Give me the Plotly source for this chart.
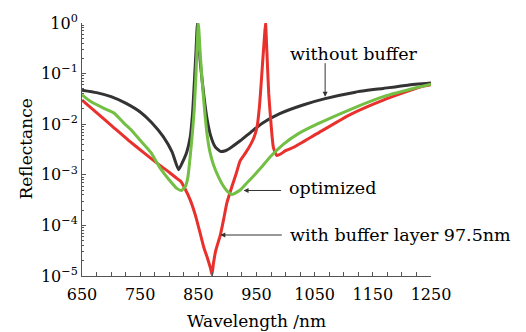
import plotly.graph_objects as go
import numpy as np

# wavelength (nm) and reflectance values
wl_black = [650, 675, 700, 725, 750, 770, 790, 805, 816, 822, 830, 836, 840, 843, 846, 848.5,
            851, 854, 859, 865, 871, 879, 888, 895, 905, 922, 940, 960, 990, 1030, 1068, 1120,
            1168, 1210, 1250]
r_black = [4.7e-2, 4.2e-2, 3.5e-2, 2.6e-2, 1.74e-2, 1.07e-2, 5.6e-3, 2.8e-3, 1.26e-3,
           1.7e-3, 2.8e-3, 5.5e-3, 1.6e-2, 6.3e-2, 2.8e-1, 1.0, 3.5e-1, 1.4e-1, 4.1e-2, 1.26e-2,
           6.0e-3, 3.55e-3, 2.9e-3, 2.95e-3, 3.4e-3, 4.7e-3, 6.9e-3, 1.05e-2, 1.62e-2, 2.4e-2,
           3.2e-2, 4.3e-2, 5.1e-2, 5.9e-2, 6.5e-2]

wl_green = [650, 665, 690, 705, 722, 735, 750, 768, 785, 800, 813, 821, 828, 832, 836, 840, 843,
            846, 850, 853, 856, 861, 865, 870, 876, 885, 893, 900, 908, 922, 935, 945, 960, 975,
            996, 1020, 1054, 1111, 1168, 1231, 1250]
r_green = [3.8e-2, 2.8e-2, 2.0e-2, 1.66e-2, 1.05e-2, 7.6e-3, 4.8e-3, 2.8e-3, 1.32e-3, 7.9e-4,
           5.4e-4, 4.9e-4, 6.0e-4, 8.9e-4, 2.3e-3, 7.1e-3, 2.0e-2, 1.0e-1, 1.0, 2.8e-1, 8.5e-2,
           1.78e-2, 6.3e-3, 2.8e-3, 1.58e-3, 8.9e-4, 6.0e-4, 4.7e-4, 4.1e-4, 5.0e-4, 7.2e-4,
           9.5e-4, 1.48e-3, 2.35e-3, 4.0e-3, 6.3e-3, 1.0e-2, 1.95e-2, 3.5e-2, 5.5e-2, 6.2e-2]

wl_red = [650, 680, 705, 730, 755, 780, 800, 813, 820, 826, 836, 845, 853, 860, 866,
          871, 873.5, 876, 880, 888, 894, 899, 908, 915, 922, 932, 940, 946, 951, 955, 958, 961,
          963.5, 965.5, 968, 971, 975, 979, 985, 992, 1000, 1014, 1054, 1111, 1168, 1231, 1250]
r_red = [3.0e-2, 1.51e-2, 8.5e-3, 4.8e-3, 2.8e-3, 1.66e-3, 1.12e-3, 8.5e-4, 7.4e-4,
         5.6e-4, 3.2e-4, 1.58e-4, 7.1e-5, 3.5e-5, 2.2e-5, 1.41e-5, 1.07e-5,
         1.78e-5, 3.2e-5, 6.6e-5, 1.41e-4, 2.75e-4, 6.0e-4, 1.05e-3, 1.9e-3, 2.8e-3, 4.0e-3,
         5.6e-3, 8.9e-3, 2.2e-2, 6.3e-2, 2.0e-1, 5.0e-1, 1.0, 2.5e-1, 4.1e-2, 1.0e-2, 3.5e-3,
         2.4e-3, 2.6e-3, 3.0e-3, 3.5e-3, 6.5e-3, 1.55e-2, 3.0e-2, 5.4e-2, 6.0e-2]

x_ticks = [650, 750, 850, 950, 1050, 1150, 1250]
y_ticks = [1, 1e-1, 1e-2, 1e-3, 1e-4, 1e-5]
y_ticktext = ["10<sup>0</sup>", "10<sup>\u22121</sup>", "10<sup>\u22122</sup>",
              "10<sup>\u22123</sup>", "10<sup>\u22124</sup>", "10<sup>\u22125</sup>"]

FONT = "DejaVu Serif"
AXC = "#555555"

fig = go.Figure()
line_common = dict(width=3, shape="spline", smoothing=0.5)
fig.add_trace(go.Scatter(x=wl_black, y=r_black, mode="lines",
                         line=dict(color="#333333", **line_common)))
fig.add_trace(go.Scatter(x=wl_red, y=r_red, mode="lines",
                         line=dict(color="#e8302c", **line_common)))
fig.add_trace(go.Scatter(x=wl_green, y=r_green, mode="lines",
                         line=dict(color="#72bf44", **line_common)))

fig.update_layout(
    width=526, height=332,
    margin=dict(l=81.5, r=95, t=16, b=56),
    paper_bgcolor="white", plot_bgcolor="white",
    showlegend=False,
    font=dict(family=FONT, size=16, color="black"),
    xaxis=dict(range=[650, 1250], tickvals=x_ticks, ticks="inside", ticklen=4,
               tickcolor=AXC, showline=True, linecolor=AXC, linewidth=1,
               showgrid=False, zeroline=False, ticklabelstandoff=4,
               minor=dict(dtick=25, tick0=650, ticks="inside", ticklen=4, tickcolor=AXC)),
    yaxis=dict(type="log", range=[-5, 0], tickvals=y_ticks, ticktext=y_ticktext,
               ticks="inside", ticklen=4, tickcolor=AXC, showline=True, linecolor=AXC,
               linewidth=1, showgrid=False, zeroline=False,
               minor=dict(dtick="D1", ticks="inside", ticklen=2, tickcolor=AXC)),
)

# axis titles
fig.add_annotation(x=0.5, y=0, xref="paper", yref="paper", yanchor="middle", yshift=-45,
                   text="Wavelength /nm", showarrow=False, font=dict(size=17))
fig.add_annotation(x=0, y=0.5, xref="paper", yref="paper", xanchor="center", xshift=-57,
                   text="Reflectance", textangle=-90, showarrow=False, font=dict(size=17))

arrow_kw = dict(showarrow=True, arrowhead=2, arrowsize=1, arrowwidth=1, arrowcolor="#333333",
                axref="pixel", ayref="pixel", text="")
fig.add_annotation(x=1068, y=np.log10(3.5e-2), ax=0, ay=-35, **arrow_kw)
fig.add_annotation(x=927.8, y=-3.31, ax=39, ay=0, **arrow_kw)
fig.add_annotation(x=887.8, y=-4.19, ax=63, ay=0, **arrow_kw)

txt_kw = dict(showarrow=False, font=dict(family=FONT, size=17.5, color="black"))
fig.add_annotation(x=1117.8, y=-0.615, text="without buffer", xanchor="center", **txt_kw)
fig.add_annotation(x=1002.3, y=-3.27, text="optimized", xanchor="left", **txt_kw)
fig.add_annotation(x=1005, y=-4.18, text="with buffer layer 97.5nm", xanchor="left", **txt_kw)

fig.write_html("out.html")
